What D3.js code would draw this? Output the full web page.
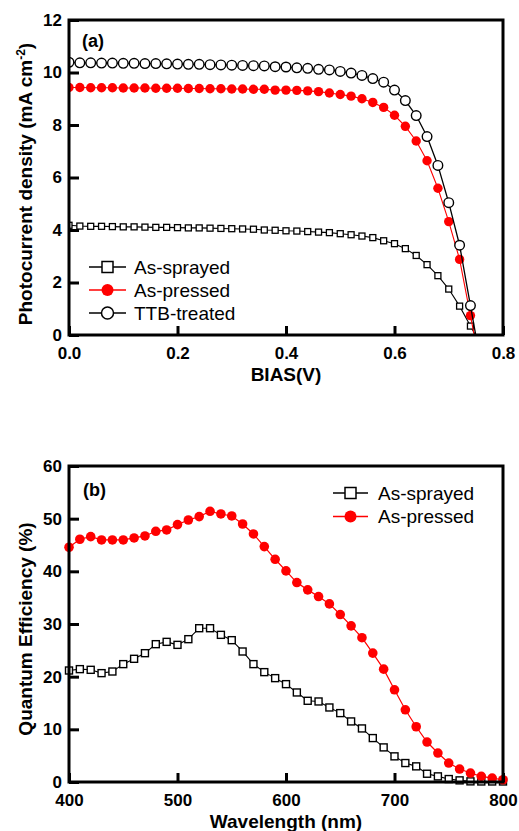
<!DOCTYPE html>
<html><head><meta charset="utf-8">
<script src="https://cdn.jsdelivr.net/npm/d3@7"></script>
<style>
html,body{margin:0;padding:0;background:#fff;}
svg{display:block;font-family:"Liberation Sans",Arial,sans-serif;}
</style></head>
<body>
<svg id="chart" width="519" height="831"></svg>
<script>
// ---------- Panel (a) data ----------
const biasV = [0.00,0.02,0.04,0.06,0.08,0.10,0.12,0.14,0.16,0.18,0.20,0.22,0.24,0.26,0.28,0.30,0.32,0.34,0.36,0.38,0.40,0.42,0.44,0.46,0.48,0.50,0.52,0.54,0.56,0.58,0.60,0.62,0.64,0.66,0.68,0.70,0.72,0.74,0.76];
const sprayedJ = [4.18,4.15,4.14,4.14,4.13,4.12,4.12,4.11,4.10,4.10,4.09,4.08,4.08,4.07,4.06,4.05,4.04,4.03,4.00,3.99,3.97,3.96,3.94,3.92,3.90,3.86,3.82,3.77,3.71,3.59,3.48,3.29,3.03,2.68,2.26,1.75,1.10,0.34,-0.42];
const pressedJ = [9.43,9.43,9.42,9.42,9.42,9.41,9.41,9.41,9.40,9.40,9.40,9.39,9.39,9.38,9.38,9.37,9.37,9.36,9.36,9.33,9.33,9.32,9.30,9.27,9.22,9.16,9.10,9.00,8.86,8.67,8.37,7.95,7.39,6.64,5.59,4.32,2.88,0.74,-1.40];
const ttbJ = [10.39,10.37,10.37,10.36,10.36,10.35,10.35,10.34,10.34,10.33,10.32,10.31,10.31,10.30,10.29,10.28,10.27,10.26,10.25,10.22,10.21,10.18,10.16,10.12,10.10,10.04,9.98,9.89,9.77,9.63,9.33,8.93,8.36,7.56,6.46,5.04,3.42,1.12,-1.18];
const biasTicks = [0.0,0.2,0.4,0.6,0.8];
const jTicks = [0,2,4,6,8,10,12];
const legendA = ["As-sprayed","As-pressed","TTB-treated"];

// ---------- Panel (b) data ----------
const wavelength = [400,410,420,430,440,450,460,470,480,490,500,510,520,530,540,550,560,570,580,590,600,610,620,630,640,650,660,670,680,690,700,710,720,730,740,750,760,770,780,790,800];
const sprayedQE = [21.17,21.43,21.30,20.67,20.98,22.38,23.39,24.46,26.17,26.61,26.04,27.12,29.20,29.20,27.94,26.93,24.78,22.38,20.86,19.72,18.58,17.00,15.42,15.29,14.15,13.08,11.50,10.17,8.34,6.57,4.87,3.60,2.97,1.57,1.07,0.56,0.31,0.12,0.10,0.10,0.10];
const pressedQE = [44.57,46.09,46.59,45.96,45.96,45.96,46.34,46.72,47.60,47.86,48.87,49.75,50.39,51.40,50.89,50.51,48.99,47.10,44.70,42.29,40.08,37.87,36.48,35.21,33.82,31.80,29.65,27.40,24.47,21.43,17.51,13.71,10.49,7.59,5.50,3.60,2.46,1.70,1.07,0.75,0.43];
const wlTicks = [400,500,600,700,800];
const qeTicks = [0,10,20,30,40,50,60];
const legendB = ["As-sprayed","As-pressed"];

const svg = d3.select("#chart");
const RED = "#ff0000";
const L = 69, R = 503;

function frame(g, x, y) {
  const [x0,x1] = x.range(), [y0,y1] = y.range();
  g.append("rect").attr("x",x0).attr("y",y1).attr("width",x1-x0).attr("height",y0-y1)
    .attr("fill","none").attr("stroke","#000").attr("stroke-width",3);
}

function axes(g, x, y, xt, yt, xfmt, yfmt) {
  const ax = g.append("g").attr("transform",`translate(0,${y.range()[0]})`)
    .call(d3.axisBottom(x).tickValues(xt).tickFormat(xfmt).tickSizeInner(-9).tickSizeOuter(0).tickPadding(12));
  const ay = g.append("g").attr("transform",`translate(${x.range()[0]},0)`)
    .call(d3.axisLeft(y).tickValues(yt).tickFormat(yfmt).tickSizeInner(-10).tickSizeOuter(0).tickPadding(7));
  [ax,ay].forEach(a=>{
    a.select(".domain").remove();
    a.selectAll(".tick line").attr("stroke","#000").attr("stroke-width",3);
    a.selectAll(".tick text").attr("fill","#000").attr("font-size",17).attr("font-weight","bold")
      .attr("font-family","Liberation Sans, Arial, sans-serif");
  });
}

function series(g, x, y, xs, ys, style, clipId) {
  const pts = xs.map((v,i)=>[v,ys[i]]);
  const gg = g.append("g").attr("clip-path",`url(#${clipId})`);
  gg.append("path").datum(pts).attr("fill","none").attr("stroke",style.line).attr("stroke-width",style.lw)
    .attr("d", d3.line().x(d=>x(d[0])).y(d=>y(d[1])));
  marker(gg.selectAll("g.m").data(pts).join("g").attr("class","m")
    .attr("transform",d=>`translate(${x(d[0])},${y(d[1])})`), style);
}

function marker(sel, style) {
  if (style.shape === "square") {
    sel.append("rect").attr("x",-style.size/2).attr("y",-style.size/2).attr("width",style.size).attr("height",style.size)
      .attr("fill","#fff").attr("stroke","#000").attr("stroke-width",style.sw);
  } else if (style.shape === "open") {
    sel.append("circle").attr("r",style.size).attr("fill","#fff").attr("stroke","#000").attr("stroke-width",style.sw);
  } else {
    sel.append("circle").attr("r",style.size).attr("fill",RED).attr("stroke","none");
  }
}

function legend(g, items, styles, lx0, lx1, tx, y0, dy) {
  items.forEach((name,i)=>{
    const yy = y0 + i*dy;
    g.append("line").attr("x1",lx0).attr("x2",lx1).attr("y1",yy).attr("y2",yy)
      .attr("stroke",styles[i].line).attr("stroke-width",1.3);
    const m = g.append("g").attr("transform",`translate(${(lx0+lx1)/2},${yy})`);
    marker(m, styles[i].leg);
    g.append("text").attr("x",tx).attr("y",yy).attr("dy","0.35em").attr("font-size",19)
      .attr("fill","#000").text(name);
  });
}

const defs = svg.append("defs");

// ===== Panel (a) =====
const xa = d3.scaleLinear().domain([0,0.8]).range([L,R]);
const ya = d3.scaleLinear().domain([0,12]).range([335,20]);
defs.append("clipPath").attr("id","clipA").append("rect")
  .attr("x",L).attr("y",20).attr("width",R-L).attr("height",335-20);
const ga = svg.append("g");
const stA = [
  {shape:"square",size:6,sw:1.3,line:"#000",lw:1.1, leg:{shape:"square",size:11,sw:1.5}},
  {shape:"filled",size:4.7,line:RED,lw:1.1, leg:{shape:"filled",size:6}},
  {shape:"open",size:4.8,sw:1.4,line:"#000",lw:1.3, leg:{shape:"open",size:6,sw:1.5}}
];
series(ga, xa, ya, biasV, sprayedJ, stA[0], "clipA");
series(ga, xa, ya, biasV, pressedJ, stA[1], "clipA");
series(ga, xa, ya, biasV, ttbJ, stA[2], "clipA");
axes(ga, xa, ya, biasTicks, jTicks, d3.format(".1f"), d3.format("d"));
frame(ga, xa, ya);
legend(ga, legendA, stA, 89, 126, 134, 267, 23);
ga.append("text").attr("x",82).attr("y",47).attr("font-size",18).attr("font-weight","bold").text("(a)");
ga.append("text").attr("x",(L+R)/2).attr("y",381).attr("text-anchor","middle").attr("font-size",19)
  .attr("font-weight","bold").text("BIAS(V)");
const ta = ga.append("text").attr("transform",`translate(32,184) rotate(-90)`).attr("text-anchor","middle")
  .attr("font-size",19).attr("font-weight","bold");
ta.append("tspan").text("Photocurrent density (mA cm");
ta.append("tspan").attr("dy",-7).attr("font-size",12).text("-2");
ta.append("tspan").attr("dy",7).text(")");

// ===== Panel (b) =====
const xb = d3.scaleLinear().domain([400,800]).range([L,R]);
const yb = d3.scaleLinear().domain([0,60]).range([782,466]);
defs.append("clipPath").attr("id","clipB").append("rect")
  .attr("x",L-8).attr("y",466).attr("width",R-L+16).attr("height",782-466+8);
const gb = svg.append("g");
const stB = [
  {shape:"square",size:7,sw:1.4,line:"#000",lw:1.1, leg:{shape:"square",size:11,sw:1.5}},
  {shape:"filled",size:4.8,line:RED,lw:1.2, leg:{shape:"filled",size:6}}
];
series(gb, xb, yb, wavelength, sprayedQE, stB[0], "clipB");
series(gb, xb, yb, wavelength, pressedQE, stB[1], "clipB");
axes(gb, xb, yb, wlTicks, qeTicks, d3.format("d"), d3.format("d"));
frame(gb, xb, yb);
legend(gb, legendB, stB, 333, 368, 378, 493, 23.5);
gb.append("text").attr("x",83).attr("y",496).attr("font-size",18).attr("font-weight","bold").text("(b)");
gb.append("text").attr("x",(L+R)/2).attr("y",828).attr("text-anchor","middle").attr("font-size",19)
  .attr("font-weight","bold").text("Wavelength (nm)");
gb.append("text").attr("transform",`translate(32,629) rotate(-90)`).attr("text-anchor","middle")
  .attr("font-size",19).attr("font-weight","bold").text("Quantum Efficiency (%)");
</script>
</body></html>
